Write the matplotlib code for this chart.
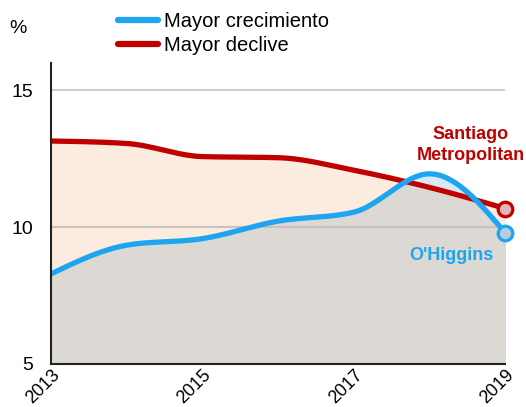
import numpy as np
import matplotlib
matplotlib.use("Agg")
import matplotlib.pyplot as plt

years = [2013, 2014, 2015, 2016, 2017, 2018, 2019]
mayor_crecimiento = [8.29, 9.34, 9.58, 10.22, 10.55, 11.95, 9.78]   # O'Higgins
mayor_declive = [13.15, 13.06, 12.58, 12.54, 12.08, 11.45, 10.68]   # Santiago Metropolitan
y_ticks = [5, 10, 15]
x_ticks = [2013, 2015, 2017, 2019]

plt.rcParams['font.family'] = ['Liberation Sans', 'DejaVu Sans']


def monotone_x(x, y, n=60):
    x = np.asarray(x, float); y = np.asarray(y, float)
    k = len(x)
    h = np.diff(x)
    s = np.diff(y) / h
    t = np.zeros(k)
    for i in range(1, k - 1):
        s0, s1 = s[i - 1], s[i]
        p = (s0 * h[i] + s1 * h[i - 1]) / (h[i - 1] + h[i])
        t[i] = (np.sign(s0) + np.sign(s1)) * min(abs(s0), abs(s1), 0.5 * abs(p))
    t[0] = (3 * s[0] - t[1]) / 2
    t[-1] = (3 * s[-1] - t[-2]) / 2
    xs, ys = [], []
    for i in range(k - 1):
        u = np.linspace(0, 1, n, endpoint=(i == k - 2))
        h00 = 2 * u**3 - 3 * u**2 + 1
        h10 = u**3 - 2 * u**2 + u
        h01 = -2 * u**3 + 3 * u**2
        h11 = u**3 - u**2
        xs.append(x[i] + u * h[i])
        ys.append(h00 * y[i] + h10 * h[i] * t[i] + h01 * y[i + 1] + h11 * h[i] * t[i + 1])
    return np.concatenate(xs), np.concatenate(ys)


bx, by = monotone_x(years, mayor_crecimiento)
rx, ry = monotone_x(years, mayor_declive)

blue = '#1ea5ef'
red = '#c00000'

fig = plt.figure(figsize=(5.26, 4.07), dpi=100)
ax = fig.add_axes([0.097, 0.106, 0.864, 0.739])
ax.set_xlim(2013, 2019)
ax.set_ylim(5, 16)

lo = np.minimum(by, ry)
ax.fill_between(bx, 5, lo, color='#dcd9d5', lw=0, zorder=1)
ax.fill_between(bx, by, ry, where=ry >= by, color='#fcebdf', lw=0, zorder=1, interpolate=True)
ax.fill_between(bx, ry, by, where=by >= ry, color='#d6e9f4', lw=0, zorder=1, interpolate=True)

for yv in [10, 15]:
    ax.axhline(yv, color='#c8c3be' if yv == 10 else '#cfcfcf', lw=1.5, zorder=2)

lr, = ax.plot(rx, ry, color=red, lw=3.8, solid_capstyle='round', zorder=3)
lb, = ax.plot(bx, by, color=blue, lw=3.8, solid_capstyle='round', zorder=4)
ax.plot([years[-1]], [mayor_declive[-1]], 'o', ms=10.5, mfc='#e0b6b9', mec=red, mew=2.3, zorder=5, clip_on=False)
ax.plot([years[-1]], [mayor_crecimiento[-1]], 'o', ms=10.5, mfc='#b9cce4', mec=blue, mew=2.3, zorder=5, clip_on=False)

ax.text(2018.54, 13.0, 'Santiago\nMetropolitan', color=red, fontsize=13, fontweight='bold',
        ha='center', va='center', linespacing=1.3)
ax.text(2018.28, 8.95, "O'Higgins", color=blue, fontsize=13, fontweight='bold', ha='center', va='center')

for s in ['top', 'right']:
    ax.spines[s].set_visible(False)
for s in ['left', 'bottom']:
    ax.spines[s].set_linewidth(1.5)
    ax.spines[s].set_color('#222222')
    ax.spines[s].set_zorder(6)

ax.set_yticks(y_ticks)
ax.set_yticklabels([str(v) for v in y_ticks], fontsize=14)
ax.set_xticks(x_ticks)
ax.set_xticklabels([str(v) for v in x_ticks], fontsize=13, rotation=45, ha='right', va='top',
                   rotation_mode='anchor')
ax.tick_params(axis='y', length=0, pad=13)
ax.tick_params(axis='x', length=0, pad=2)

fig.text(0.018, 0.93, '%', fontsize=14, ha='left', va='center')

leg = fig.legend([lb, lr], ['Mayor crecimiento', 'Mayor declive'], loc='upper left',
                 bbox_to_anchor=(0.19, 1.015), frameon=False, fontsize=14.5,
                 handlelength=2.0, handletextpad=0.3, labelspacing=0.25)
for l in leg.get_lines():
    l.set_linewidth(4.5)
    l.set_solid_capstyle('round')

fig.savefig('out.png', dpi=100)
